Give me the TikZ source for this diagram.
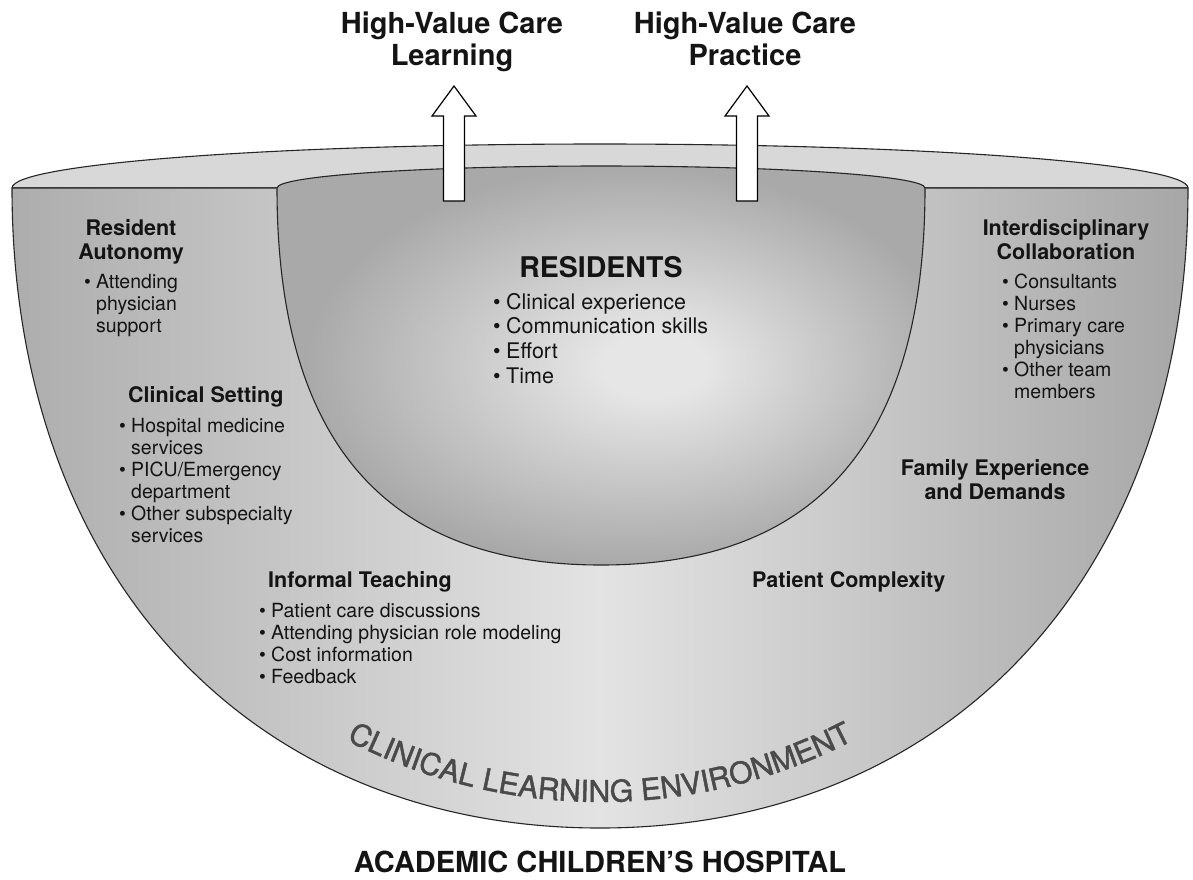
\documentclass[tikz,border=0pt]{standalone}
\usepackage{fontspec}
\setmainfont{TeX Gyre Heros}
\newfontface\envface{TeX Gyre Heros}[FakeBold=1.5]
\usetikzlibrary{decorations.text}

\definecolor{ink}{HTML}{141414}
\definecolor{edge}{HTML}{262626}
\definecolor{rimtop}{HTML}{D8D8D8}
\definecolor{faceL}{HTML}{ADADAD}
\definecolor{faceM}{HTML}{E3E3E3}
\definecolor{faceR}{HTML}{A7A7A7}
\definecolor{bowlhi}{HTML}{E6E6E6}
\definecolor{bowllo}{HTML}{A9A9A9}
\definecolor{envtext}{HTML}{4A4A4A}

% soft light spot inside the inner bowl, a little right of centre
\pgfdeclareradialshading{bowlshade}{\pgfpoint{4.5bp}{0bp}}{color(0bp)=(bowlhi); color(4bp)=(bowlhi); color(25bp)=(bowllo); color(50bp)=(bowllo)}

% bullet with fixed width, and the matching indent for wrapped lines
\newcommand\blt[1][12pt]{\makebox[#1][l]{\textbullet}}
\newcommand\bltind[1][12pt]{\hspace*{#1}}

\begin{document}
\begin{tikzpicture}[x=1pt,y=-1pt,
  outline/.style={draw=edge, line width=1.1pt, line join=round},
  blockarrow/.style={draw=black, line width=1.2pt, fill=white, line join=miter},
  toptitle/.style={inner sep=0pt, anchor=base, text=ink, font=\fontsize{29}{32}\selectfont\bfseries},
  headtxt/.style={inner sep=0pt, text=ink, font=\fontsize{21.5}{24}\selectfont\bfseries},
  bodytxt/.style={inner sep=0pt, anchor=base west, text=ink, font=\fontsize{19.5}{22}\selectfont},
  resbody/.style={inner sep=0pt, anchor=base west, text=ink, font=\fontsize{21.5}{24.7}\selectfont},
  bigtxt/.style={inner sep=0pt, anchor=base, text=ink, font=\fontsize{28.5}{30}\selectfont\bfseries},
  uparrow/.pic={\path[blockarrow] (-10.5,201) -- (-10.5,116) -- (-22,116) -- (0,86) -- (22,116) -- (10.5,116) -- (10.5,201) -- cycle;}
]
\useasboundingbox (0,0) rectangle (1193,879);

% top surface of the outer rim (back half)
\path[fill=rimtop, outline] (12,188) arc[start angle=180, end angle=0, x radius=588pt, y radius=44pt] -- cycle;

% vertical cut face of the environment (middle colour must come last)
\path[left color=faceL, right color=faceR, middle color=faceM, outline]
  (12,188) -- (1188,188) .. controls (1188,572) and (953,828) .. (600,828)
  .. controls (247,828) and (12,572) .. (12,188) -- cycle;

% inner bowl (residents)
\path[shading=bowlshade, outline]
  (277,188) arc[start angle=180, end angle=0, x radius=324pt, y radius=22pt]
  .. controls (925,440) and (818,565) .. (601,565)
  .. controls (384,565) and (277,440) .. (277,188) -- cycle;

% outcome arrows
\pic (arrowL) at (454,0) {uparrow};
\pic (arrowR) at (747,0) {uparrow};

% outcomes
\node[toptitle] (learning) at (452,33) {\begin{tabular}[t]{@{}c@{}}High-Value Care\\Learning\end{tabular}};
\node[toptitle] (practice) at (745,33) {\begin{tabular}[t]{@{}c@{}}High-Value Care\\Practice\end{tabular}};

% residents
\node[bigtxt] (res) at (601,277) {RESIDENTS};
\node[resbody] (resList) at (493,309) {\begin{tabular}[t]{@{}l@{}}\blt[13pt]Clinical experience\\\blt[13pt]Communication skills\\\blt[13pt]Effort\\\blt[13pt]Time\end{tabular}};

% resident autonomy
\node[headtxt, anchor=base] (auto) at (131,235) {\begin{tabular}[t]{@{}c@{}}Resident\\Autonomy\end{tabular}};
\node[bodytxt] (autoList) at (84,288) {\begin{tabular}[t]{@{}l@{}}\blt Attending\\\bltind physician\\\bltind support\end{tabular}};

% clinical setting
\node[headtxt, anchor=base west] (setting) at (128,402) {Clinical Setting};
\node[bodytxt] (settingList) at (119,432) {\begin{tabular}[t]{@{}l@{}}\blt Hospital medicine\\\bltind services\\\blt PICU/Emergency\\\bltind department\\\blt Other subspecialty\\\bltind services\end{tabular}};

% informal teaching
\node[headtxt, anchor=base west] (teach) at (268,587) {Informal Teaching};
\node[bodytxt] (teachList) at (259,617) {\begin{tabular}[t]{@{}l@{}}\blt Patient care discussions\\\blt Attending physician role modeling\\\blt Cost information\\\blt Feedback\end{tabular}};

% interdisciplinary collaboration
\node[headtxt, anchor=base] (collab) at (1066,235) {\begin{tabular}[t]{@{}c@{}}Interdisciplinary\\Collaboration\end{tabular}};
\node[bodytxt] (collabList) at (1002,288) {\begin{tabular}[t]{@{}l@{}}\blt Consultants\\\blt Nurses\\\blt Primary care\\\bltind physicians\\\blt Other team\\\bltind members\end{tabular}};

% family and patient
\node[headtxt, anchor=base] (family) at (995,475) {\begin{tabular}[t]{@{}c@{}}Family Experience\\and Demands\end{tabular}};
\node[headtxt, anchor=base west] (complex) at (752,587) {Patient Complexity};

% curved label along the bottom of the cut face
\path[decorate, decoration={text along path, text align=center,
    text={|\envface\fontsize{30}{30}\selectfont\color{envtext}|CLINICAL LEARNING ENVIRONMENT}}]
  (600,251) ++(236:551pt) arc[start angle=236, end angle=304, radius=551pt];

% setting
\node[inner sep=0pt, anchor=base, text=ink, font=\fontsize{29}{30}\selectfont\bfseries] (hosp) at (600,872) {ACADEMIC CHILDREN’S HOSPITAL};
\end{tikzpicture}
\end{document}
